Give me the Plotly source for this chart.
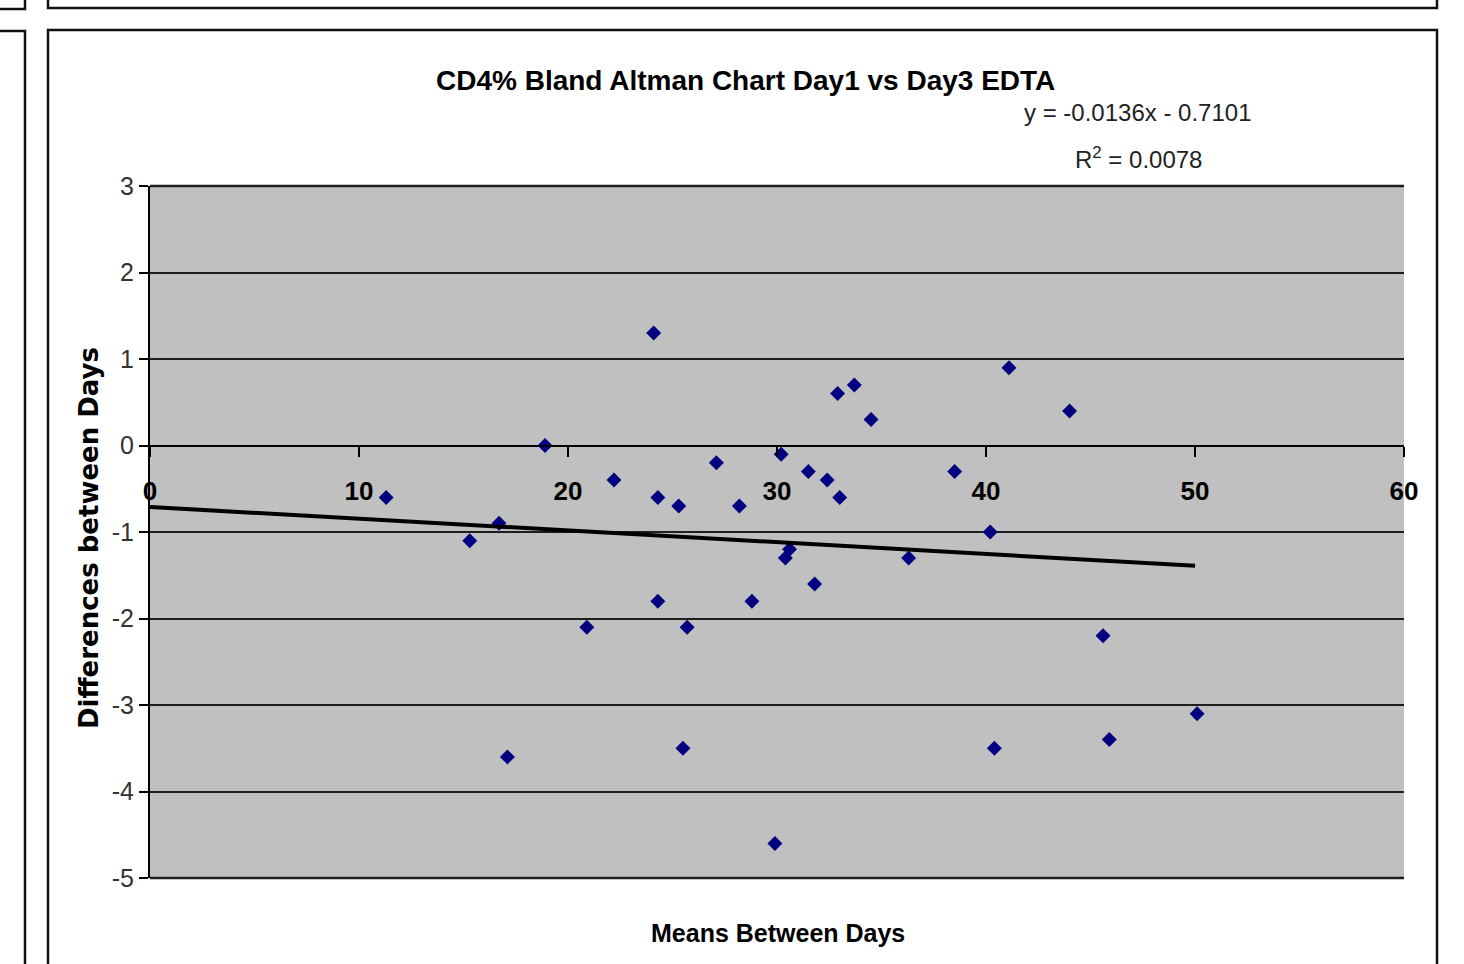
import plotly.graph_objects as go

# Bland-Altman data: mean of the two days (x) vs difference between days (y)
means = [11.3, 15.3, 16.7, 17.1, 18.9, 20.9, 22.2, 24.1, 24.3, 24.3,
         25.3, 25.5, 25.7, 27.1, 28.2, 28.8, 29.9, 30.2, 30.4, 30.6,
         31.5, 31.8, 32.4, 32.9, 33.0, 33.7, 34.5, 36.3, 38.5, 40.2,
         40.4, 41.1, 44.0, 45.6, 45.9, 50.1]
diffs = [-0.6, -1.1, -0.9, -3.6, 0.0, -2.1, -0.4, 1.3, -0.6, -1.8,
         -0.7, -3.5, -2.1, -0.2, -0.7, -1.8, -4.6, -0.1, -1.3, -1.2,
         -0.3, -1.6, -0.4, 0.6, -0.6, 0.7, 0.3, -1.3, -0.3, -1.0,
         -3.5, 0.9, 0.4, -2.2, -3.4, -3.1]

# Linear trendline as reported on the chart
slope = -0.0136
intercept = -0.7101
r_squared = 0.0078
trend_x = [0, 50]

x_ticks = [0, 10, 20, 30, 40, 50, 60]
y_ticks = [3, 2, 1, 0, -1, -2, -3, -4, -5]

W, H = 1464, 964
ML, MR, MT, MB = 150, 60, 186, 86
PW, PH = W - ML - MR, H - MT - MB


def px(xp):
    return (xp - ML) / PW


def py(yp):
    return (H - MB - yp) / PH


SANS = "Liberation Sans, Arial, sans-serif"

fig = go.Figure()

fig.add_trace(go.Scatter(
    x=means, y=diffs, mode="markers",
    marker=dict(symbol="diamond", size=11.5, color="#000080",
                line=dict(width=0)),
    showlegend=False, hoverinfo="x+y",
))

fig.add_trace(go.Scatter(
    x=trend_x, y=[intercept + slope * v for v in trend_x], mode="lines",
    line=dict(color="black", width=4),
    showlegend=False, hoverinfo="skip",
))

y_min, y_max = min(y_ticks), max(y_ticks)

fig.update_layout(
    width=W, height=H,
    margin=dict(l=ML, r=MR, t=MT, b=MB),
    paper_bgcolor="white",
    plot_bgcolor="#c0c0c0",
    xaxis=dict(
        range=[min(x_ticks), max(x_ticks)],
        tickvals=x_ticks,
        ticktext=[str(v) for v in x_ticks],
        showgrid=False, zeroline=False,
        showline=True, linecolor="black", linewidth=2,
        ticks="outside", ticklen=10, tickwidth=2, tickcolor="black",
        tickfont=dict(family=SANS, size=26, color="black", weight="bold"),
        ticklabelstandoff=12,
        anchor="free",
        position=(0 - y_min) / (y_max - y_min),
    ),
    yaxis=dict(
        range=[y_min, y_max],
        tickvals=y_ticks,
        ticktext=[str(v) for v in y_ticks],
        showgrid=True, gridcolor="#1e1e1e", gridwidth=2,
        zeroline=False,
        showline=True, linecolor="black", linewidth=2,
        ticks="outside", ticklen=9, tickwidth=2, tickcolor="black",
        tickfont=dict(family=SANS, size=25, color="#333"),
    ),
)

# edge lines of the plot area at the top and bottom of the value range
for yv in (0, 1):
    fig.add_shape(type="line", xref="paper", yref="paper",
                  x0=0, x1=1, y0=yv, y1=yv,
                  line=dict(color="#1e1e1e", width=2.5))

# surrounding chart frames
frame = dict(color="#111", width=2.5)
fig.add_shape(type="rect", xref="paper", yref="paper",
              x0=px(48), x1=px(1437), y0=py(1000), y1=py(30), line=frame)
fig.add_shape(type="rect", xref="paper", yref="paper",
              x0=px(48), x1=px(1437), y0=py(8), y1=py(-30), line=frame)
fig.add_shape(type="rect", xref="paper", yref="paper",
              x0=px(-30), x1=px(25), y0=py(1000), y1=py(31), line=frame)
fig.add_shape(type="rect", xref="paper", yref="paper",
              x0=px(-30), x1=px(25), y0=py(9), y1=py(-30), line=frame)

fig.add_annotation(
    text="CD4% Bland Altman Chart Day1 vs Day3 EDTA",
    xref="paper", yref="paper", x=px(745), y=py(80),
    xanchor="center", yanchor="middle", showarrow=False,
    font=dict(family=SANS, size=28, color="black", weight="bold"),
)
fig.add_annotation(
    text=f"y = {slope}x - {abs(intercept)}",
    xref="paper", yref="paper", x=px(1137), y=py(113),
    xanchor="center", yanchor="middle", showarrow=False,
    font=dict(family=SANS, size=24, color="#222"),
)
fig.add_annotation(
    text=f"R<sup>2</sup> = {r_squared}",
    xref="paper", yref="paper", x=px(1138), y=py(158),
    xanchor="center", yanchor="middle", showarrow=False,
    font=dict(family=SANS, size=24, color="#222"),
)
fig.add_annotation(
    text="Means Between Days",
    xref="paper", yref="paper", x=px(778), y=py(933),
    xanchor="center", yanchor="middle", showarrow=False,
    font=dict(family=SANS, size=25, color="black", weight="bold"),
)
fig.add_annotation(
    text="Differences between Days",
    xref="paper", yref="paper", x=px(89), y=py(538),
    xanchor="center", yanchor="middle", showarrow=False, textangle=-90,
    font=dict(family="DejaVu Sans, Verdana, sans-serif",
              size=26, color="black", weight="bold"),
)

fig.write_html("out.html")
